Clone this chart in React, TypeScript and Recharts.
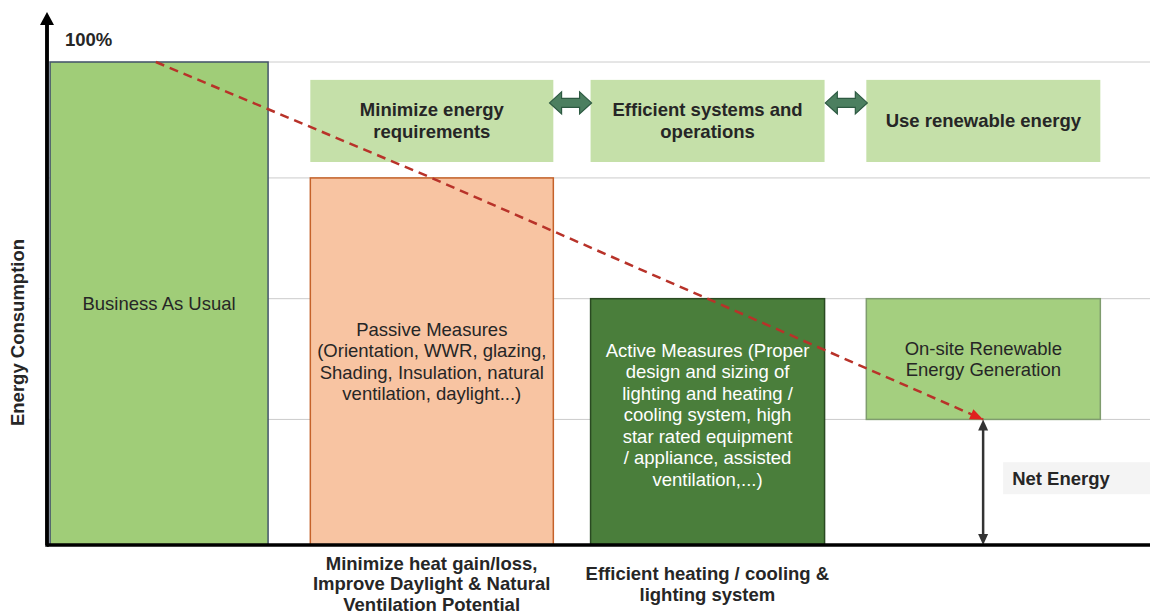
import React from 'react';
import { ComposedChart, Bar, Line, XAxis, YAxis, CartesianGrid, ReferenceLine } from 'recharts';

// columns of the concept chart
const categories = ['Business As Usual', 'Passive Measures', 'Active Measures', 'On-site Renewable'];
// energy consumption range of each measure (% of business as usual)
const measureLow = [0, 0, 0, 26];
const measureHigh = [100, 76, 51, 51];
// strategy boxes at the top
const strategyLow = [0, 79.3, 79.3, 79.3];
const strategyHigh = [0, 96.3, 96.3, 96.3];
// red dashed trend (reduction path)
const trendLine = [100, 76, 51, 26];
const netEnergy = 26;
const yTicks = [0, 26, 51, 76, 100];

const measureText = [
  ['Business As Usual'],
  ['Passive Measures', '(Orientation, WWR, glazing,', 'Shading, Insulation, natural', 'ventilation, daylight...)'],
  ['Active Measures (Proper', 'design and sizing of', 'lighting and heating /', 'cooling system, high', 'star rated equipment', '/ appliance, assisted', 'ventilation,...)'],
  ['On-site Renewable', 'Energy Generation'],
];
const strategyText = [[], ['Minimize energy', 'requirements'], ['Efficient systems and', 'operations'], ['Use renewable energy']];
const axisText = [[], ['Minimize heat gain/loss,', 'Improve Daylight & Natural', 'Ventilation Potential'], ['Efficient heating / cooling &', 'lighting system'], []];

const FONT = '"Liberation Sans", Arial, sans-serif';
const measureFill = ['#a0cd78', '#f8c4a2', '#4a7e3b', '#a4cf7f'];
const measureStroke = ['#44546a', '#c5622a', '#2a4a22', '#7f9c6e'];
const measureColor = ['#262626', '#262626', '#ffffff', '#262626'];
const measureWidth = [218, 243, 234, 234];
const measureShift = [0, 0, -7, 0];

const data = categories.map((name, i) => ({
  name,
  base: measureLow[i],
  measure: measureHigh[i] - measureLow[i],
  spacer: strategyHigh[i] > 0 ? strategyLow[i] - measureHigh[i] : 0,
  strategy: strategyHigh[i] - strategyLow[i],
  trend: trendLine[i],
}));

const idx = (p: any) => (typeof p.index === 'number' ? p.index : categories.indexOf(p.payload?.name));

const TextLines = ({ x, y, lines, lh, color, bold }: any) => (
  <g>
    {lines.map((l: string, i: number) => (
      <text
        key={i}
        x={x}
        y={y + (i - (lines.length - 1) / 2) * lh}
        dy="0.35em"
        textAnchor="middle"
        fontFamily={FONT}
        fontSize={18.5}
        fontWeight={bold ? 'bold' : 'normal'}
        fill={color}
      >
        {l}
      </text>
    ))}
  </g>
);

const MeasureShape = (p: any) => {
  const i = idx(p);
  if (!p.height || p.height <= 0.5) return <g />;
  const cx = p.x + p.width / 2;
  const w = measureWidth[i];
  let left = cx - w / 2;
  if (i === 0) left += 3;
  return (
    <g>
      <rect x={left} y={p.y} width={w} height={p.height} fill={measureFill[i]} stroke={measureStroke[i]} strokeWidth={1.5} />
      <TextLines x={left + w / 2} y={p.y + p.height / 2 + measureShift[i]} lines={measureText[i]} lh={21.5} color={measureColor[i]} />
    </g>
  );
};

const StrategyShape = (p: any) => {
  const i = idx(p);
  if (!p.height || p.height <= 0.5) return <g />;
  const cx = p.x + p.width / 2;
  const w = measureWidth[i];
  const left = cx - w / 2;
  const yc = p.y + 23;
  let arrow = null;
  if (i >= 2) {
    const L = left - 41;
    const R = left + 1;
    const h = 12;
    arrow = (
      <polygon
        points={`${L},${yc} ${L + h},${yc - 11} ${L + h},${yc - 4.5} ${R - h},${yc - 4.5} ${R - h},${yc - 11} ${R},${yc} ${R - h},${yc + 11} ${R - h},${yc + 4.5} ${L + h},${yc + 4.5} ${L + h},${yc + 11}`}
        fill="#4c7f60"
        stroke="#2d5a42"
        strokeWidth={1.2}
      />
    );
  }
  return (
    <g>
      <rect x={left} y={p.y} width={w} height={p.height} fill="#c5e0a9" />
      <TextLines x={cx} y={p.y + p.height / 2} lines={strategyText[i]} lh={22} color="#262626" bold />
      {arrow}
    </g>
  );
};

let trendStart = { x: 0, y: 0 };
const TrendDot = (p: any) => {
  if (p.index === 0) trendStart = { x: p.cx, y: p.cy };
  if (p.index !== trendLine.length - 1) return <g key={`d${p.index}`} />;
  const a = Math.atan2(p.cy - trendStart.y, p.cx - trendStart.x);
  const len = 13;
  const hw = 5.5;
  const bx = p.cx - len * Math.cos(a);
  const by = p.cy - len * Math.sin(a);
  const nx = -Math.sin(a) * hw;
  const ny = Math.cos(a) * hw;
  return (
    <polygon key={`d${p.index}`} points={`${p.cx},${p.cy} ${bx + nx},${by + ny} ${bx - nx},${by - ny}`} fill="#e0201e" />
  );
};

const NetArrow = (p: any) => {
  const x = p.x1;
  const top = Math.min(p.y1, p.y2);
  const bot = Math.max(p.y1, p.y2);
  const mid = (top + bot) / 2;
  return (
    <g>
      <line x1={x} y1={top + 6} x2={x} y2={bot - 6} stroke="#333" strokeWidth={2.5} />
      <polygon points={`${x},${top} ${x - 5},${top + 11} ${x + 5},${top + 11}`} fill="#333" />
      <polygon points={`${x},${bot} ${x - 5},${bot - 11} ${x + 5},${bot - 11}`} fill="#333" />
      <rect x={x + 20} y={mid - 20} width={150} height={32} fill="#f4f4f4" />
      <text x={x + 29} y={mid - 4} dy="0.35em" fontFamily={FONT} fontSize={18.5} fontWeight="bold" fill="#262626">
        Net Energy
      </text>
    </g>
  );
};

const XTick = (p: any) => {
  const i = categories.indexOf(p.payload?.value);
  const lines = axisText[i] || [];
  if (!lines.length) return <g />;
  return <TextLines x={p.x} y={p.y + 39} lines={lines} lh={20.5} color="#262626" bold />;
};

const YTick = (p: any) => {
  if (p.payload?.value !== 100) return <g />;
  return (
    <text x={p.x + 18} y={p.y - 22} dy="0.35em" fontFamily={FONT} fontSize={18.5} fontWeight="bold" fill="#262626">
      100%
    </text>
  );
};

const YDecor = (p: any) => {
  const vb = p.viewBox || {};
  const ax = (vb.x || 0) + (vb.width || 0);
  const top = vb.y || 0;
  const bottom = top + (vb.height || 0);
  const mid = (top + bottom) / 2;
  return (
    <g>
      <line x1={ax} y1={top} x2={ax} y2={bottom + 1.75} stroke="#000" strokeWidth={3.5} />
      <polygon points={`${ax - 7},${top + 1} ${ax},${top - 12} ${ax + 7},${top + 1}`} fill="#000" />
      <text
        transform={`translate(${ax - 29}, ${mid + 48}) rotate(-90)`}
        dy="0.35em"
        textAnchor="middle"
        fontFamily={FONT}
        fontSize={18.5}
        fontWeight="bold"
        fill="#262626"
      >
        Energy Consumption
      </text>
    </g>
  );
};

export default function App() {
  return (
    <div style={{ position: 'absolute', left: 0, top: 0, width: 1150, height: 615, background: '#fff' }}>
      <ComposedChart width={1150} height={615} data={data} margin={{ top: 24, right: 0, left: 45, bottom: 0 }}>
        <CartesianGrid vertical={false} stroke="#cccccc" horizontalValues={yTicks} />
        <XAxis
          dataKey="name"
          padding={{ left: -29, right: 29 }}
          height={70}
          axisLine={{ stroke: '#000', strokeWidth: 3.5 }}
          tickLine={false}
          tickSize={0}
          tickMargin={0}
          interval={0}
          tick={XTick}
        />
        <YAxis
          width={2}
          domain={[0, 107.87]}
          ticks={yTicks}
          interval={0}
          axisLine={{ stroke: '#000', strokeWidth: 3.5 }}
          tickLine={false}
          tickSize={0}
          tickMargin={0}
          tick={YTick}
          label={{ content: YDecor }}
        />
        <Bar dataKey="base" stackId="s" fill="transparent" isAnimationActive={false} />
        <Bar dataKey="measure" stackId="s" shape={MeasureShape} isAnimationActive={false} />
        <Bar dataKey="spacer" stackId="s" fill="transparent" isAnimationActive={false} />
        <Bar dataKey="strategy" stackId="s" shape={StrategyShape} isAnimationActive={false} />
        <Line
          dataKey="trend"
          stroke="#b83229"
          strokeWidth={2.5}
          strokeDasharray="9 6"
          dot={TrendDot}
          activeDot={false}
          isAnimationActive={false}
        />
        <ReferenceLine
          segment={[
            { x: categories[3], y: 0 },
            { x: categories[3], y: netEnergy },
          ]}
          shape={NetArrow}
        />
      </ComposedChart>
    </div>
  );
}
